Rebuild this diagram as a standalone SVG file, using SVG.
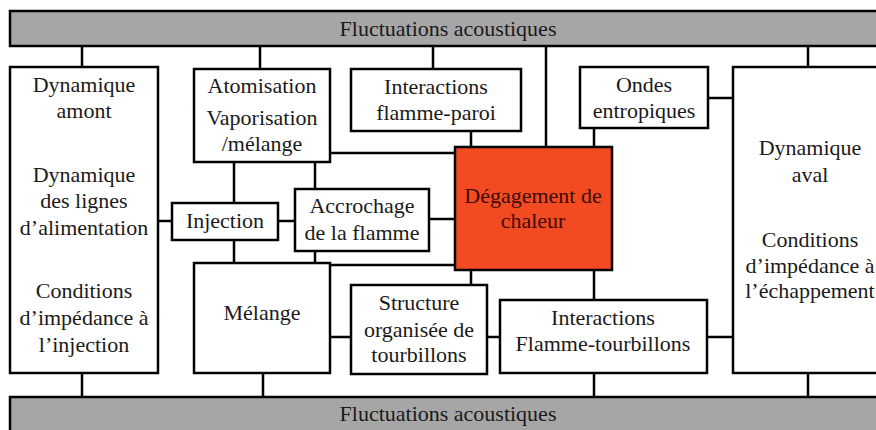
<svg xmlns="http://www.w3.org/2000/svg" width="876" height="430" viewBox="0 0 876 430">
<style>
.box{fill:#fff;stroke:#000;stroke-width:2.5}
.bar{fill:#a6a6a6;stroke:#000;stroke-width:2.5}
.hot{fill:#f44a22;stroke:#000;stroke-width:2.5}
.c{stroke:#000;stroke-width:2.5;fill:none}
text{font-family:"Liberation Serif","Times New Roman",serif;font-size:22px;fill:#1a1a1a;text-anchor:middle}
.ht{fill:#3a0c02}
</style>
<rect width="876" height="430" fill="#fff"/>
<g id="connectors">
<path class="c" d="M82 46V67M260 46V69M433 46V69M546 46V147M808 46V67"/>
<path class="c" d="M471 131V147M594 128V147M708 98H733"/>
<path class="c" d="M330 153H455M234 162V203M315 162V189M158 221H172M278 221H295M429 219H455"/>
<path class="c" d="M234 240V263M315 251V263M330 265H455"/>
<path class="c" d="M471 270V285M594 270V300M330 337H351M487 337H500M707 337H733"/>
<path class="c" d="M82 373V397M263 373V397M594 373V397M808 373V397"/>
</g>
<g id="bar-top"><rect class="bar" x="10" y="11" width="880" height="35"/><text x="448" y="36">Fluctuations acoustiques</text></g>
<g id="bar-bottom"><rect class="bar" x="10" y="397" width="880" height="40"/><text x="448" y="421">Fluctuations acoustiques</text></g>
<g id="amont"><rect class="box" x="10" y="67" width="148" height="306"/>
<text x="84" y="92">Dynamique</text><text x="84" y="118">amont</text>
<text x="84" y="182">Dynamique</text><text x="84" y="208">des lignes</text><text x="84" y="235">d’alimentation</text>
<text x="84" y="298">Conditions</text><text x="84" y="325">d’impédance à</text><text x="84" y="352">l’injection</text></g>
<g id="atomisation"><rect class="box" x="194" y="69" width="136" height="93"/>
<text x="262" y="93">Atomisation</text><text x="262" y="125">Vaporisation</text><text x="262" y="151">/mélange</text></g>
<g id="paroi"><rect class="box" x="351" y="69" width="170" height="62"/>
<text x="436" y="94">Interactions</text><text x="436" y="120">flamme-paroi</text></g>
<g id="ondes"><rect class="box" x="580" y="67" width="128" height="61"/>
<text x="644" y="92">Ondes</text><text x="644" y="118">entropiques</text></g>
<g id="aval"><rect class="box" x="733" y="67" width="160" height="306"/>
<text x="810" y="155">Dynamique</text><text x="810" y="182">aval</text>
<text x="810" y="247">Conditions</text><text x="810" y="273">d’impédance à</text><text x="810" y="298">l’échappement</text></g>
<g id="injection"><rect class="box" x="172" y="203" width="106" height="37"/>
<text x="225" y="228">Injection</text></g>
<g id="accrochage"><rect class="box" x="295" y="189" width="134" height="62"/>
<text x="362" y="213">Accrochage</text><text x="362" y="240">de la flamme</text></g>
<g id="degagement"><rect class="hot" x="455" y="147" width="157" height="123"/>
<text class="ht" x="533" y="203">Dégagement de</text><text class="ht" x="533" y="228">chaleur</text></g>
<g id="melange"><rect class="box" x="194" y="263" width="136" height="110"/>
<text x="262" y="320">Mélange</text></g>
<g id="structure"><rect class="box" x="351" y="285" width="136" height="89"/>
<text x="419" y="310">Structure</text><text x="419" y="337">organisée de</text><text x="419" y="362">tourbillons</text></g>
<g id="tourbillons"><rect class="box" x="500" y="300" width="207" height="73"/>
<text x="603" y="325">Interactions</text><text x="603" y="351">Flamme-tourbillons</text></g>
</svg>
